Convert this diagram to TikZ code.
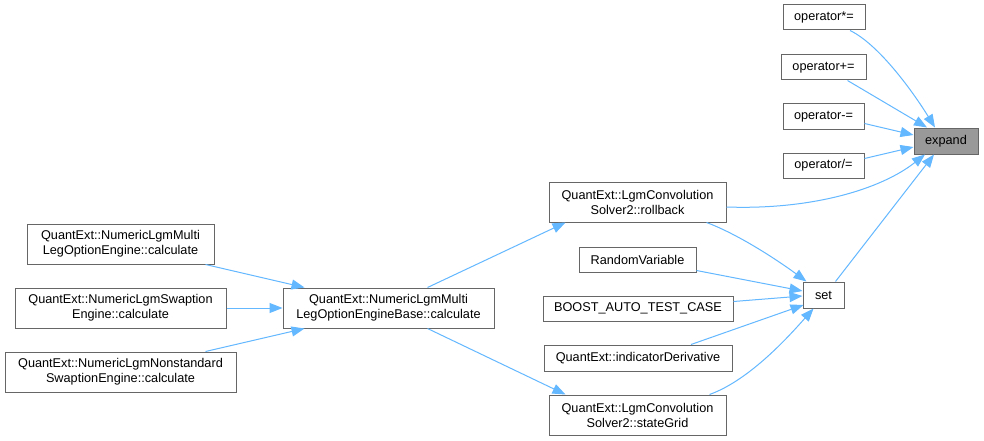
\documentclass[tikz,border=0pt]{standalone}
\usepackage{fontspec}
\setmainfont{Liberation Sans}
\usetikzlibrary{arrows.meta,calc}
\definecolor{edgec}{HTML}{63B8FF}
\definecolor{bordc}{HTML}{666666}
\definecolor{hlfill}{HTML}{999999}
\begin{document}
\begin{tikzpicture}[x=1pt,y=-1pt,
  box/.style={draw=bordc,line width=1pt,fill=white,inner sep=0pt,align=center,
    font=\fontsize{12.7}{15}\selectfont,text=black},
  hl/.style={box,fill=hlfill},
  arr/.style={draw=edgec,line width=1pt,-{Triangle[length=13pt,width=10pt]}}]
\useasboundingbox (0,0) rectangle (984,441);
\fill[white] (0,0) rectangle (984,441);
% nodes
\node[hl,minimum width=64pt,minimum height=26pt] (expand) at (946,141) {expand};
\node[box,minimum width=82pt,minimum height=25pt] (opstar) at (824,17.5) {operator*=};
\node[box,minimum width=85pt,minimum height=25pt] (opplus) at (823.5,67.5) {operator+=};
\node[box,minimum width=81pt,minimum height=25pt] (opminus) at (823.5,116.5) {operator-=};
\node[box,minimum width=81pt,minimum height=25pt] (opdiv) at (823.5,165.5) {operator/=};
\node[box,minimum width=177pt,minimum height=40pt] (rollback) at (637.5,202) {QuantExt::LgmConvolution\\Solver2::rollback};
\node[box,minimum width=117pt,minimum height=25pt] (randvar) at (637.5,259.5) {RandomVariable};
\node[box,minimum width=190pt,minimum height=25pt] (boost) at (638,308.5) {BOOST\_AUTO\_TEST\_CASE};
\node[box,minimum width=188pt,minimum height=26pt] (indder) at (638,358) {QuantExt::indicatorDerivative};
\node[box,minimum width=177pt,minimum height=40pt] (stategrid) at (637.5,415) {QuantExt::LgmConvolution\\Solver2::stateGrid};
\node[box,minimum width=41pt,minimum height=26pt] (set) at (823.5,295) {set};
\node[box,minimum width=187pt,minimum height=40pt] (nlmlo) at (120.5,244) {QuantExt::NumericLgmMulti\\LegOptionEngine::calculate};
\node[box,minimum width=211pt,minimum height=40pt] (swaption) at (120.5,308) {QuantExt::NumericLgmSwaption\\Engine::calculate};
\node[box,minimum width=231pt,minimum height=40pt] (nonstd) at (120.5,372) {QuantExt::NumericLgmNonstandard\\SwaptionEngine::calculate};
\node[box,minimum width=211pt,minimum height=40pt] (base) at (388.5,308) {QuantExt::NumericLgmMulti\\LegOptionEngineBase::calculate};
% edges to expand
\draw[arr] ($(opstar.south)+(26,0)$) .. controls (880,45) and (915,95) .. ($(expand.north)+(-11,0)$);
\draw[arr] ($(opplus.south)+(24,0)$) -- ($(expand.north)+(-19,0)$);
\draw[arr] ($(opminus.east)+(0,7)$) -- ($(expand.west)+(0,-6)$);
\draw[arr] ($(opdiv.east)+(0,-7)$) -- ($(expand.west)+(0,6)$);
\draw[arr] ($(rollback.east)+(0,5)$) .. controls (810,210) and (880,190) .. ($(expand.south)+(-21,0)$);
\draw[arr] ($(set.north)+(12,0)$) -- ($(expand.south)+(-12,0)$);
% edges to base / rollback / stategrid
\draw[arr] ($(nlmlo.south)+(85,0)$) -- ($(base.north)+(-84,0)$);
\draw[arr] (swaption.east) -- (base.west);
\draw[arr] ($(nonstd.north)+(85,0)$) -- ($(base.south)+(-84,0)$);
\draw[arr] ($(base.north)+(39,0)$) -- ($(rollback.south)+(-72,0)$);
\draw[arr] ($(base.south)+(39,0)$) -- ($(stategrid.north)+(-72,0)$);
% edges to set
\draw[arr] ($(rollback.south)+(69,0)$) .. controls (740,235) and (780,262) .. ($(set.north)+(-17,0)$);
\draw[arr] ($(randvar.east)+(0,11)$) -- ($(set.west)+(0,-4)$);
\draw[arr] ($(boost.east)+(0,-7)$) -- ($(set.west)+(0,1)$);
\draw[arr] ($(indder.north)+(53,0)$) -- ($(set.west)+(1,10)$);
\draw[arr] ($(stategrid.north)+(72,0)$) .. controls (750,380) and (790,335) .. ($(set.south)+(-10,0)$);
\end{tikzpicture}
\end{document}
